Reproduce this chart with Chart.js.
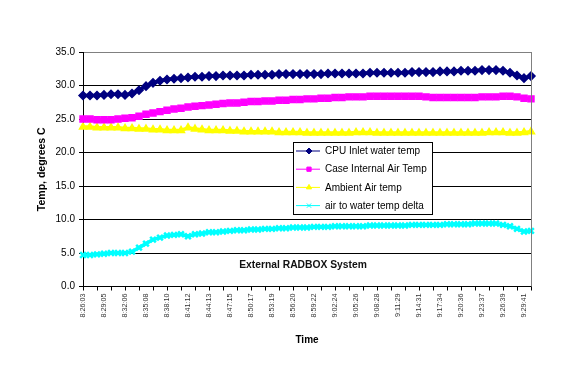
<!DOCTYPE html>
<html>
<head>
<meta charset="utf-8">
<script src="https://cdn.jsdelivr.net/npm/chart.js@4.4.1/dist/chart.umd.min.js"></script>
<style>
  html, body { margin: 0; padding: 0; background: #fff; }
  #wrap { width: 569px; height: 382px; }
</style>
</head>
<body>
<div id="wrap"><canvas id="c" width="569" height="382"></canvas></div>
<script>
const times = [
  "8:26:03","8:27:04","8:28:04","8:29:05","8:30:05","8:31:06","8:32:06","8:33:07","8:34:07","8:35:08",
  "8:36:09","8:37:09","8:38:10","8:39:10","8:40:11","8:41:12","8:42:12","8:43:13","8:44:13","8:45:14",
  "8:46:14","8:47:15","8:48:16","8:49:16","8:50:17","8:51:17","8:52:18","8:53:19","8:54:19","8:55:20",
  "8:56:20","8:57:21","8:58:21","8:59:22","9:00:23","9:01:23","9:02:24","9:03:24","9:04:25","9:05:26",
  "9:06:26","9:07:27","9:08:28","9:09:28","9:10:29","9:11:29","9:12:30","9:13:30","9:14:31","9:15:32",
  "9:16:33","9:17:34","9:18:34","9:19:35","9:20:36","9:21:36","9:22:37","9:23:37","9:24:38","9:25:38",
  "9:26:39","9:27:40","9:28:40","9:29:41","9:30:42"
];
const cpuInlet = [
  28.5,28.5,28.5,28.6,28.7,28.7,28.6,28.8,29.3,29.9,
  30.4,30.7,30.9,31.0,31.1,31.2,31.3,31.3,31.4,31.4,
  31.5,31.5,31.5,31.5,31.6,31.6,31.6,31.6,31.7,31.7,
  31.7,31.7,31.7,31.7,31.7,31.8,31.8,31.8,31.8,31.8,
  31.8,31.9,31.9,31.9,31.9,31.9,31.9,32.0,32.0,32.0,
  32.0,32.1,32.1,32.1,32.2,32.2,32.2,32.3,32.3,32.3,
  32.2,31.9,31.5,31.1,31.4
];
const caseAir = [
  25.0,25.0,24.9,24.9,24.9,25.0,25.1,25.2,25.4,25.7,
  25.9,26.1,26.3,26.5,26.6,26.8,26.9,27.0,27.1,27.2,
  27.3,27.4,27.4,27.5,27.6,27.6,27.7,27.7,27.8,27.8,
  27.9,27.9,28.0,28.0,28.1,28.1,28.2,28.2,28.3,28.3,
  28.3,28.4,28.4,28.4,28.4,28.4,28.4,28.4,28.4,28.3,
  28.2,28.2,28.2,28.2,28.2,28.2,28.2,28.3,28.3,28.3,
  28.4,28.4,28.3,28.1,28.0
];
const ambientAir = [
  23.8,23.8,23.7,23.7,23.7,23.7,23.6,23.6,23.5,23.5,
  23.4,23.4,23.3,23.3,23.3,23.7,23.5,23.4,23.3,23.3,
  23.3,23.2,23.2,23.1,23.1,23.1,23.1,23.1,23.0,23.0,
  23.0,23.0,22.9,22.9,22.9,22.9,22.9,22.9,22.9,23.0,
  23.0,23.0,22.9,22.9,22.9,22.9,22.9,22.9,22.9,22.9,
  22.9,22.9,22.9,22.9,22.9,22.9,22.9,22.9,23.0,23.0,
  23.0,22.9,22.9,23.0,23.1
];
const deltaTemp = [
  4.7,4.7,4.8,4.9,5.0,5.0,5.0,5.2,5.8,6.4,
  7.0,7.3,7.6,7.7,7.8,7.5,7.8,7.9,8.1,8.1,
  8.2,8.3,8.4,8.4,8.5,8.5,8.6,8.6,8.7,8.7,
  8.8,8.8,8.8,8.9,8.9,8.9,9.0,9.0,9.0,9.0,
  9.0,9.1,9.1,9.1,9.1,9.1,9.1,9.2,9.2,9.2,
  9.2,9.2,9.3,9.3,9.3,9.3,9.4,9.4,9.4,9.4,
  9.2,9.0,8.6,8.2,8.3
];
const seriesNames = ["CPU Inlet water temp","Case Internal Air Temp","Ambient Air temp","air to water temp delta"];
const yTicks = [0,5,10,15,20,25,30,35];
const annotationText = "External RADBOX System";

const FONT = "'Liberation Sans', Arial, sans-serif";

function ds(label, data, color, style, radius, filled) {
  return {
    label, data,
    borderColor: color,
    backgroundColor: filled ? color : 'rgba(0,0,0,0)',
    pointBorderColor: color,
    pointBackgroundColor: color,
    pointStyle: style,
    pointRadius: radius,
    pointBorderWidth: filled ? 1.5 : 2.5,
    borderWidth: 3.5,
    tension: 0,
    clip: false
  };
}

const datasets = [
  ds(seriesNames[0], cpuInlet, '#000080', 'rectRot', 4, true),
  ds(seriesNames[1], caseAir, '#FF00FF', 'rect', 4.2, true),
  ds(seriesNames[2], ambientAir, '#FFFF00', 'triangle', 4, true),
  ds(seriesNames[3], deltaTemp, '#00FFFF', 'crossRot', 4, false)
];

const framePlugin = {
  id: 'frame',
  afterDatasetsDraw(chart) {
    const { ctx, chartArea: a } = chart;
    ctx.save();
    // right border of plot area (gray)
    ctx.strokeStyle = '#808080';
    ctx.lineWidth = 1;
    ctx.beginPath();
    ctx.moveTo(Math.round(a.right) + 0.5, a.top);
    ctx.lineTo(Math.round(a.right) + 0.5, a.bottom);
    ctx.stroke();

    // annotation text
    const y = chart.scales.y;
    ctx.fillStyle = '#111';
    ctx.font = "bold 10.3px " + FONT;
    ctx.textAlign = 'center';
    ctx.textBaseline = 'middle';
    ctx.fillText(annotationText, (a.left + a.right) / 2 - 4, y.getPixelForValue(3.2));

    // legend box
    const lx = a.left + 210, ly = a.top + 90, lw = 139, lh = 72;
    ctx.fillStyle = '#fff';
    ctx.fillRect(lx, ly, lw, lh);
    ctx.strokeStyle = '#000';
    ctx.lineWidth = 1;
    ctx.strokeRect(Math.round(lx) + 0.5, Math.round(ly) + 0.5, lw, lh);
    ctx.font = "10px " + FONT;
    ctx.textAlign = 'left';
    chart.data.datasets.forEach((d, i) => {
      const cy = ly + 9 + i * 18.2;
      ctx.strokeStyle = d.borderColor;
      ctx.lineWidth = 1;
      ctx.beginPath();
      ctx.moveTo(lx + 3, cy);
      ctx.lineTo(lx + 27, cy);
      ctx.stroke();
      ctx.save();
      ctx.fillStyle = d.pointBackgroundColor;
      ctx.strokeStyle = d.pointBorderColor;
      ctx.lineWidth = 1;
      Chart.helpers.drawPoint(ctx, { pointStyle: d.pointStyle, radius: 3, borderWidth: 1, rotation: 0 }, lx + 16, cy);
      ctx.restore();
      ctx.fillStyle = '#000';
      ctx.textBaseline = 'middle';
      ctx.fillText(d.label, lx + 32, cy + 0.5);
    });
    ctx.restore();
  }
};

new Chart(document.getElementById('c'), {
  type: 'line',
  data: { labels: times, datasets },
  plugins: [framePlugin],
  options: {
    responsive: false,
    animation: false,
    devicePixelRatio: 1,
    layout: { padding: { top: 52, right: 38, bottom: 0, left: 0 } },
    plugins: { legend: { display: false }, tooltip: { enabled: false } },
    scales: {
      x: {
        type: 'category',
        offset: false,
        afterFit(s) { s.height = 95.5; },
        grid: {
          drawOnChartArea: false,
          drawTicks: true,
          tickLength: 4,
          tickColor: (c) => (c.index % 2 === 0 ? '#000' : 'rgba(0,0,0,0)')
        },
        border: { color: '#000', width: 1 },
        ticks: {
          autoSkip: false,
          minRotation: 90,
          maxRotation: 90,
          padding: 3,
          color: '#333',
          font: { family: FONT, size: 7.2 },
          callback: (v, i) => (i % 3 === 0 ? times[i] : '')
        },
        title: {
          display: true,
          text: 'Time',
          color: '#000',
          font: { family: FONT, size: 10, weight: 'bold' },
          padding: { top: 0, bottom: 36 }
        }
      },
      y: {
        min: 0,
        max: 35,
        afterFit(s) { s.width = 83; },
        afterBuildTicks(s) { s.ticks = yTicks.map(v => ({ value: v })); },
        grid: {
          color: (c) => (c.tick && c.tick.value === 35 ? '#808080' : '#000'),
          tickColor: '#000',
          tickLength: 4,
          lineWidth: 1
        },
        border: { color: '#000', width: 1 },
        ticks: {
          padding: 4,
          color: '#000',
          font: { family: FONT, size: 10 },
          callback: (v) => Number(v).toFixed(1)
        },
        title: {
          display: true,
          text: 'Temp, degrees C',
          color: '#000',
          font: { family: FONT, size: 10.5, weight: 'bold' },
          padding: { top: 36, bottom: 0 }
        }
      }
    }
  }
});
</script>
</body>
</html>
